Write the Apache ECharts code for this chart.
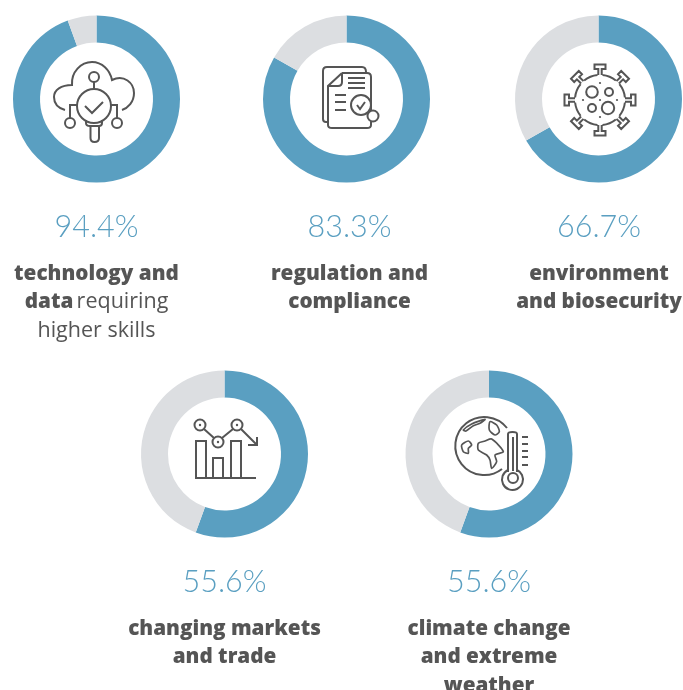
<!DOCTYPE html>
<html><head><meta charset="utf-8">
<style>html,body{margin:0;padding:0;background:#fff}#c{width:683px;height:690px}</style>
<script src="https://cdn.jsdelivr.net/npm/echarts@6/dist/echarts.min.js"></script>
</head><body><div id="c"></div>
<script>
const values = [94.4, 83.3, 66.7, 55.6, 55.6];
const labelLines = [
  ['{b|technology and}', '{b|data} {r|requiring}', '{r|higher skills}'],
  ['{b|regulation and}', '{b|compliance}'],
  ['{b|environment}', '{b|and biosecurity}'],
  ['{b|changing markets}', '{b|and trade}'],
  ['{b|climate change}', '{b|and extreme}', '{b|weather}']
];
const centers = [[96.5,99],[346.5,99],[598.5,99],[224.5,454],[489,454]];
const textX = [96.5,349.5,599,224.5,489];
const pctY = [227,227,227,582,582];
const BLUE='#5a9fc1', GREY='#dcdee1', INK='#555555';
const stroke={stroke:INK,lineWidth:2,fill:null};
let pathId=0;
const path=(d)=>{
  const name='iconPath'+(pathId++);
  echarts.graphic.registerShape(name, echarts.graphic.extendPath(d,{}));
  return {type:name,silent:true,style:Object.assign({},stroke)};
};
const circ=(cx,cy,r)=>({type:'circle',silent:true,shape:{cx,cy,r},style:Object.assign({},stroke)});
const dot=(cx,cy,r)=>({type:'circle',silent:true,shape:{cx,cy,r:r||1.1},style:{fill:INK}});
const blob=(o,pts)=>({type:'polygon',silent:true,shape:{points:pts.map(p=>[o[0]+p[0]/3,o[1]+p[1]/3]),smooth:0.25},style:Object.assign({},stroke,{lineWidth:1.7})});

const icons=[];
// cloud / technology
icons.push(
 path('M65 110C58 108 54 103 54 97C54 90 61 85 72 85C71 72 81 62 92 62C102 62 110 70 112 80C124 74 134 83 134 93C134 102 128 108 122 110'),
 circ(94,77,5),path('M94 82L94 89'),circ(94,106,17),path('M85 106L92 113L103 102'),
 path('M77 105L70 105L70 118'),circ(70,123,5),path('M111 105L117 105L117 118'),circ(117,123,5),
 path('M86 120L86 123Q86 126 90 126L99 126Q102 126 102 123L102 120'),
 path('M90.5 126L90.5 138Q90.5 142 94.5 142Q99 142 99 138L99 126')
);
// documents / regulation
icons.push(
 path('M328 122L326 122Q323 122 323 119L323 71Q323 67 327 67L362 67Q366 67 366 72'),
 path('M342 73L367 73Q371 73 371 77L371 125Q371 128 367 128L332 128Q328 128 328 125L328 86L342 73'),
 path('M329 86L338 86Q342 86 342 82L342 73'),
 path('M348 78L365 78M348 83L365 83M348 88L365 88M335 95L346 95M335 102L346 102M335 110L346 110'),
 {type:'circle',silent:true,shape:{cx:373,cy:116,r:5.5},style:{stroke:INK,lineWidth:2,fill:'#fff'}},
 {type:'circle',silent:true,shape:{cx:361,cy:105,r:10},style:{stroke:INK,lineWidth:2,fill:'#fff'}},
 path('M357 105L360 109L365 102')
);
// virus / environment
const vc=[600,100];
let body='';
for(let i=0;i<8;i++){
  const a=i*Math.PI/4, c=Math.cos(a), s=Math.sin(a);
  const q=(r,w)=>[vc[0]+r*c-w*s, vc[1]+r*s+w*c].map(n=>n.toFixed(1)).join(' ');
  body+='M'+q(25,-1.7)+'L'+q(31,-1.7)+'L'+q(31,-5.5)+'L'+q(35.5,-5.5)+'L'+q(35.5,5.5)+'L'+q(31,5.5)+'L'+q(31,1.7)+'L'+q(25,1.7);
  const a1=a+0.1, a2=a+Math.PI/4-0.1;
  body+='M'+(vc[0]+25*Math.cos(a1)).toFixed(1)+' '+(vc[1]+25*Math.sin(a1)).toFixed(1)+'A25 25 0 0 1 '+(vc[0]+25*Math.cos(a2)).toFixed(1)+' '+(vc[1]+25*Math.sin(a2)).toFixed(1);
}
icons.push(path(body),circ(592,92,5.8),circ(609,92,4),circ(592,108,4),circ(608,108,6.2),
 dot(600,83),dot(600,100),dot(600,117),dot(583,100),dot(617,100));
// chart / markets
icons.push(
 circ(200,425,5.5),dot(200,425,1.2),circ(218,442,5.5),dot(218,442,1.2),circ(237,425,5.5),dot(237,425,1.2),
 path('M204 429L214 438M222 438L233 429M241 429L257 445M257 437L257 445L248 445'),
 path('M196 478L196 441L206 441L206 478M213 478L213 458L223 458L223 478M231 478L231 441L241 441L241 478'),
 path('M195 478L256 478')
);
// globe / climate
icons.push(
 path('M507 428A29 29 0 1 0 502 469'),
 path('M508 472L508 434Q508 432 512.5 432Q517 432 517 434L517 472'),
 path('M513 437L513 471'),
 path('M508 470A10.5 10.5 0 1 0 517 470'),circ(513,478,5),
 path('M522 437L528 437M522 444L528 444M522 451L528 451M522 457L528 457M522 465L528 465'),
 blob([440,405],[[70,75],[95,57],[135,43],[120,55],[100,62],[78,78]]),
 blob([440,405],[[150,50],[170,60],[178,80],[165,90],[148,75]]),
 blob([440,405],[[65,120],[85,108],[95,120],[85,130],[85,145],[70,140]]),
 blob([440,405],[[115,115],[135,108],[155,102],[190,140],[165,150],[170,170],[155,190],[150,165],[140,150],[115,135]])
);

const texts=[];
values.forEach((v,i)=>{
  texts.push({type:'text',silent:true,x:textX[i],y:pctY[i],style:{
    text:v.toFixed(1)+'%',fill:BLUE,font:'300 30.5px Lato',align:'center',verticalAlign:'middle'}});
  texts.push({type:'text',silent:true,x:textX[i],y:pctY[i]+32.5,style:{
    text:labelLines[i].join('\n'),align:'center',verticalAlign:'top',lineHeight:28.5,
    rich:{b:{font:'800 20.7px "Open Sans"',fill:INK,lineHeight:28.5},
          r:{font:'400 21.5px "Open Sans"',fill:INK,lineHeight:28.5}}}});
});

const chart=echarts.init(document.getElementById('c'),null,{renderer:'canvas'});
chart.setOption({
  animation:false,backgroundColor:'#fff',
  series:values.map((v,i)=>({
    type:'pie',silent:true,startAngle:90,clockwise:true,
    center:centers[i],radius:[56.5,83.5],label:{show:false},labelLine:{show:false},
    data:[{value:v,itemStyle:{color:BLUE}},{value:100-v,itemStyle:{color:GREY}}]
  })),
  graphic:{elements:icons.concat(texts)}
});
</script></body></html>
